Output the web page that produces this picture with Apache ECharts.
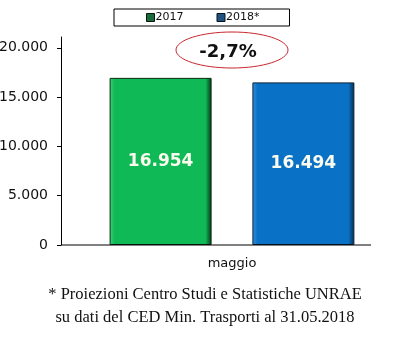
<!DOCTYPE html>
<html>
<head>
<meta charset="utf-8">
<script src="https://cdn.jsdelivr.net/npm/echarts@6/dist/echarts.min.js"></script>
<style>
  html, body { margin: 0; padding: 0; background: #fff; }
  #chart { width: 409px; height: 348px; }
</style>
</head>
<body>
<div id="chart"></div>
<script>
// Registrations in May: 2017 vs 2018 (projection)
const categories = ['maggio'];
const seriesNames = ['2017', '2018*'];
const values2017 = [16954];
const values2018 = [16494];
const yTicks = [0, 5000, 10000, 15000, 20000];
const changeLabel = '-2,7%';
const footnoteLines = [
  '* Proiezioni Centro Studi e Statistiche UNRAE',
  'su dati del CED Min. Trasporti al 31.05.2018'
];

// Italian thousands separator
function fmt(v) {
  return String(v).replace(/\B(?=(\d{3})+(?!\d))/g, '.');
}

function barFill(light, main, dark) {
  return new echarts.graphic.LinearGradient(0, 0, 1, 0, [
    { offset: 0, color: light },
    { offset: 0.05, color: main },
    { offset: 0.94, color: main },
    { offset: 1, color: dark }
  ]);
}

const chart = echarts.init(document.getElementById('chart'), null, { renderer: 'canvas' });

const option = {
  animation: false,
  backgroundColor: '#fff',
  textStyle: { fontFamily: 'DejaVu Sans' },
  legend: {
    left: 114,
    top: 9,
    padding: [3, 30, 3, 32],
    borderColor: '#000',
    borderWidth: 1,
    itemWidth: 8,
    itemHeight: 8,
    itemGap: 33,
    textStyle: { fontSize: 11, color: '#111', fontFamily: 'DejaVu Sans', padding: [0, 0, 0, -4] },
    data: [
      { name: seriesNames[0], icon: 'rect', itemStyle: { color: '#1c6b3c', borderColor: '#06180c', borderWidth: 1 } },
      { name: seriesNames[1], icon: 'rect', itemStyle: { color: '#21527f', borderColor: '#061420', borderWidth: 1 } }
    ]
  },
  grid: { left: 61, right: 6, top: 37, bottom: 103, outerBoundsMode: 'none', containLabel: false },
  xAxis: {
    type: 'category',
    data: categories,
    axisLine: { show: false },
    axisTick: { show: false },
    axisLabel: { color: '#111', fontSize: 13, margin: 12, fontFamily: 'DejaVu Sans' }
  },
  yAxis: {
    type: 'value',
    min: 0,
    max: 21100,
    interval: 5000,
    splitLine: { show: false },
    axisLine: { show: true, lineStyle: { color: '#000', width: 1 } },
    axisTick: { show: true, length: 4, lineStyle: { color: '#000' }, customValues: yTicks },
    axisLabel: {
      color: '#111', fontSize: 14, margin: 13, fontFamily: 'DejaVu Sans',
      customValues: yTicks,
      formatter: v => fmt(v)
    }
  },
  series: [
    {
      name: seriesNames[0],
      type: 'bar',
      data: values2017,
      barWidth: 102,
      barGap: '40%',
      itemStyle: {
        color: barFill('#3fd27c', '#0fb955', '#07361a'),
        borderColor: '#0b2a14',
        borderWidth: 1
      },
      label: {
        show: true, position: 'inside', color: '#fbfbef',
        fontSize: 17, fontWeight: 'bold', fontFamily: 'DejaVu Sans',
        formatter: p => fmt(p.value)
      }
    },
    {
      name: seriesNames[1],
      type: 'bar',
      data: values2018,
      barWidth: 102,
      itemStyle: {
        color: barFill('#3690dd', '#0a72c6', '#062c4c'),
        borderColor: '#0b2238',
        borderWidth: 1
      },
      label: {
        show: true, position: 'inside', color: '#fbfbef',
        fontSize: 17, fontWeight: 'bold', fontFamily: 'DejaVu Sans',
        formatter: p => fmt(p.value)
      }
    }
  ]
};

chart.setOption(option);

// Horizontal axis line limited to the bar region, plus the change bubble and the footnote
const y0 = chart.convertToPixel({ yAxisIndex: 0 }, 0);
chart.setOption({
  graphic: [
    { type: 'line', shape: { x1: 61, y1: y0, x2: 371, y2: y0 }, style: { stroke: '#000', lineWidth: 1 }, z: 10 },
    { type: 'ellipse', shape: { cx: 232, cy: 50, rx: 56, ry: 18 }, style: { fill: '#fff', stroke: '#c8262e', lineWidth: 1 } },
    { type: 'text', x: 228, y: 52, style: { text: changeLabel, fill: '#111', font: 'bold 18px "DejaVu Sans"', align: 'center', verticalAlign: 'middle' } },
    { type: 'text', x: 205, y: 295, style: { text: footnoteLines[0], fill: '#111', font: '16.5px "Liberation Serif"', align: 'center', verticalAlign: 'middle' } },
    { type: 'text', x: 205, y: 318, style: { text: footnoteLines[1], fill: '#111', font: '16.5px "Liberation Serif"', align: 'center', verticalAlign: 'middle' } }
  ]
});
</script>
</body>
</html>
